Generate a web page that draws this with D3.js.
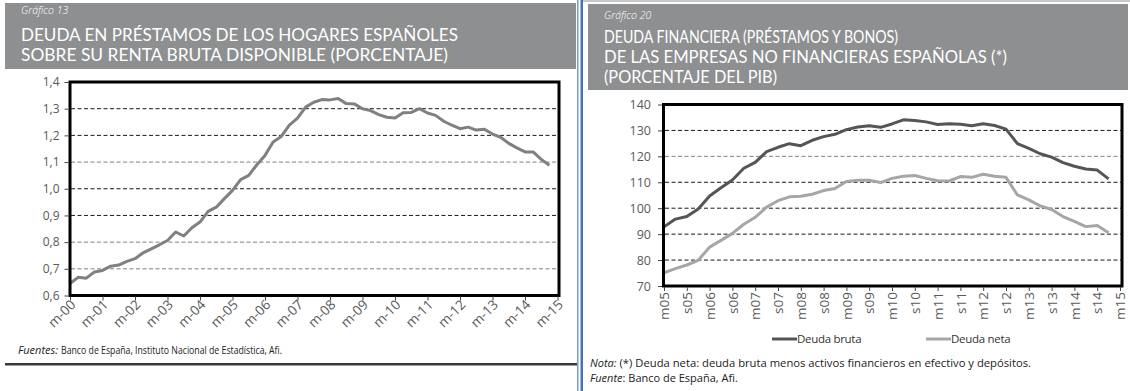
<!DOCTYPE html>
<html><head><meta charset="utf-8">
<script src="https://cdn.jsdelivr.net/npm/d3@7"></script>
<style>
html,body{margin:0;padding:0;background:#fff;}
svg{display:block;}
</style></head>
<body><svg id="c" width="1130" height="391" font-family="Open Sans, DejaVu Sans, sans-serif"></svg>
<script>
// ---------- DATA ----------
// Left chart: quarterly, March 2000 .. late 2014
const leftQuarterIndex = d3.range(60);
const leftValues = [0.645,0.668,0.665,0.688,0.694,0.71,0.714,0.728,0.738,0.76,
  0.775,0.79,0.806,0.838,0.823,0.854,0.875,0.915,0.931,0.963,
  0.994,1.034,1.05,1.09,1.125,1.175,1.196,1.238,1.265,1.306,
  1.324,1.334,1.333,1.338,1.319,1.318,1.30,1.293,1.278,1.268,
  1.265,1.285,1.286,1.30,1.284,1.275,1.253,1.238,1.225,1.231,
  1.22,1.223,1.205,1.193,1.17,1.153,1.138,1.138,1.11,1.088];
const leftXLabels = ["m-00","m-01","m-02","m-03","m-04","m-05","m-06","m-07","m-08","m-09","m-10","m-11","m-12","m-13","m-14","m-15"];
const leftYTicks = [0.6,0.7,0.8,0.9,1.0,1.1,1.2,1.3,1.4];

// Right chart: quarterly, March 2005 .. late 2014
const rightQuarterIndex = d3.range(40);
const deudaBruta = [92.8,95.8,96.8,99.7,104.7,107.9,110.9,115.4,117.7,121.8,
  123.5,124.9,124.1,126.2,127.6,128.5,130.3,131.3,131.8,131.2,
  132.5,134.1,133.8,133.3,132.3,132.6,132.4,131.8,132.6,131.9,
  130.5,124.9,123.1,121.0,119.7,117.6,116.2,115.1,114.7,111.3];
const deudaNeta = [75.1,76.7,78.1,79.9,85.0,87.6,90.3,93.8,96.5,100.4,
  102.9,104.4,104.6,105.4,106.8,107.6,110.3,110.8,110.8,109.9,
  111.5,112.3,112.6,111.5,110.6,110.5,112.2,111.9,113.1,112.3,
  111.9,105.1,103.2,100.9,99.5,96.8,94.9,92.9,93.3,90.5];
const rightXLabels = ["m05","s05","m06","s06","m07","s07","m08","s08","m09","s09","m10","s10","m11","s11","m12","s12","m13","s13","m14","s14","m15"];
const rightYTicks = [70,80,90,100,110,120,130,140];
const seriesNames = ["Deuda bruta","Deuda neta"];

// ---------- STYLE ----------
const headerGrey = "#8e8f91";
const axisText = "#595959";
const leftGreyGrid = [1.1,0.8,0.7];
const rightGreyGrid = [120];

const svg = d3.select("#c");

// panel separators
svg.append("rect").attr("x",577).attr("y",0).attr("width",1.5).attr("height",391).attr("fill","#7d9bc8");
svg.append("rect").attr("x",580.5).attr("y",0).attr("width",2.5).attr("height",391).attr("fill","#4a72b0");
svg.append("rect").attr("x",583).attr("y",0).attr("width",547).attr("height",2).attr("fill","#c8c8c8");

// ---------- HEADERS ----------
function header(x,y,w,h,num,lines,lineY,lineW,numY){
  svg.append("rect").attr("x",x).attr("y",y).attr("width",w).attr("height",h).attr("fill",headerGrey);
  svg.append("text").attr("x",x+16).attr("y",numY).attr("fill","#fff")
    .attr("font-size",10.5).attr("font-style","italic").attr("font-weight",300).text(num);
  lines.forEach((t,i)=>{
    svg.append("text").attr("x",x+16).attr("y",lineY[i]).attr("fill","#fff")
      .attr("font-family","Lato").attr("font-size",16.5)
      .attr("textLength",lineW[i]).attr("lengthAdjust","spacingAndGlyphs").text(t);
  });
}
header(5,3,571,66,"Gráfico 13",
  ["DEUDA EN PRÉSTAMOS DE LOS HOGARES ESPAÑOLES","SOBRE SU RENTA BRUTA DISPONIBLE (PORCENTAJE)"],
  [41,61],[437,427],14);
header(588,4,540,86,"Gráfico 20",
  ["DEUDA FINANCIERA (PRÉSTAMOS Y BONOS)","DE LAS EMPRESAS NO FINANCIERAS ESPAÑOLAS (*)","(PORCENTAJE DEL PIB)"],
  [43,63,83],[294,403,173],19);

// footer helper: italic label + rest as separate texts
function footer(x,y,label,rest,gap,restWidth,size){
  const a = svg.append("text").attr("x",x).attr("y",y).attr("font-size",size).attr("fill","#222")
    .attr("font-style","italic").text(label);
  const w = a.node().getComputedTextLength() + gap;
  const b = svg.append("text").attr("x",x+w).attr("y",y).attr("font-size",size).attr("fill","#222").text(rest);
  if(restWidth) b.attr("textLength",restWidth-w).attr("lengthAdjust","spacingAndGlyphs");
}

// ---------- LEFT CHART ----------
const lx = d3.scaleLinear().domain([0,60]).range([70,557.5]);
const ly = d3.scaleLinear().domain([0.6,1.4]).range([295.5,82]);
const lg = svg.append("g");
lg.selectAll("line.grid").data(leftYTicks.filter(v=>v>0.61&&v<1.39)).join("line")
  .attr("x1",71).attr("x2",558).attr("y1",d=>ly(d)).attr("y2",d=>ly(d))
  .attr("stroke",d=>leftGreyGrid.some(g=>Math.abs(g-d)<1e-6)?"#808080":"#1a1a1a")
  .attr("stroke-width",1).attr("stroke-dasharray","4,2.5");
lg.append("path").datum(leftValues)
  .attr("d",d3.line().x((d,i)=>lx(leftQuarterIndex[i])).y(d=>ly(d)))
  .attr("fill","none").attr("stroke","#808080").attr("stroke-width",3).attr("stroke-linejoin","round");
lg.append("rect").attr("x",70).attr("y",82).attr("width",489).attr("height",213.5)
  .attr("fill","none").attr("stroke","#000").attr("stroke-width",3);
// y axis
const lyAxis = lg.append("g").attr("transform","translate(68.5,0)")
  .call(d3.axisLeft(ly).tickValues(leftYTicks).tickSize(4).tickFormat(d=>d3.format(".1f")(d).replace(".",",")));
lyAxis.attr("font-family",null).attr("font-size",null);
lyAxis.select(".domain").remove();
lyAxis.selectAll("line").attr("stroke","#444");
lyAxis.selectAll("text").attr("fill",axisText).attr("font-size",12).attr("x",-9);
// x axis
const lxAxis = lg.append("g").attr("transform","translate(0,296.5)")
  .call(d3.axisBottom(lx).tickValues(d3.range(0,61,4)).tickSize(4).tickFormat((d,i)=>leftXLabels[i]));
lxAxis.attr("font-family",null).attr("font-size",null);
lxAxis.select(".domain").remove();
lxAxis.selectAll("line").attr("stroke","#444");
lxAxis.selectAll("text").attr("fill",axisText).attr("font-size",13.5)
  .attr("text-anchor","end").attr("dy",0).attr("y",0)
  .attr("transform","translate(6,9) rotate(-45)");
footer(18,354,"Fuentes:","Banco de España, Instituto Nacional de Estadística, Afi.",3,264,11);
svg.append("rect").attr("x",5).attr("y",363).attr("width",572).attr("height",2.5).attr("fill","#3a3a3a");

// ---------- RIGHT CHART ----------
const rx = d3.scaleLinear().domain([0,40]).range([664,1120]);
const ry = d3.scaleLinear().domain([70,140]).range([286,104.5]);
const rg = svg.append("g");
rg.selectAll("line.grid").data(rightYTicks.filter(v=>v>70&&v<140)).join("line")
  .attr("x1",665).attr("x2",1121).attr("y1",d=>ry(d)).attr("y2",d=>ry(d))
  .attr("stroke",d=>rightGreyGrid.includes(d)?"#808080":"#1a1a1a")
  .attr("stroke-width",1).attr("stroke-dasharray","4,2.5");
const rLine = vals => d3.line().x((d,i)=>rx(rightQuarterIndex[i])).y(d=>ry(d))(vals);
const rColors = ["#555555","#a6a6a6"];
[deudaBruta,deudaNeta].forEach((s,k)=>{
  rg.append("path").attr("d",rLine(s)).attr("fill","none").attr("stroke",rColors[k])
    .attr("stroke-width",3).attr("stroke-linejoin","round");
});
rg.append("rect").attr("x",663.5).attr("y",104.5).attr("width",458.5).attr("height",181.5)
  .attr("fill","none").attr("stroke","#000").attr("stroke-width",3);
const ryAxis = rg.append("g").attr("transform","translate(662,0)")
  .call(d3.axisLeft(ry).tickValues(rightYTicks).tickSize(4));
ryAxis.attr("font-family",null).attr("font-size",null);
ryAxis.select(".domain").remove();
ryAxis.selectAll("line").attr("stroke","#444");
ryAxis.selectAll("text").attr("fill",axisText).attr("font-size",12.5).attr("x",-11);
const rxAxis = rg.append("g").attr("transform","translate(0,287)")
  .call(d3.axisBottom(rx).tickValues(d3.range(0,41,2)).tickSize(4).tickFormat((d,i)=>rightXLabels[i]));
rxAxis.attr("font-family",null).attr("font-size",null);
rxAxis.select(".domain").remove();
rxAxis.selectAll("line").attr("stroke","#444");
rxAxis.selectAll("text").attr("fill",axisText).attr("font-size",13.5)
  .attr("text-anchor","end").attr("dy","0.35em").attr("y",0).attr("x",0)
  .attr("transform","translate(0,5) rotate(-90)");
// legend
const legX = [772,926];
seriesNames.forEach((n,k)=>{
  rg.append("line").attr("x1",legX[k]).attr("x2",legX[k]+25).attr("y1",339).attr("y2",339)
    .attr("stroke",rColors[k]).attr("stroke-width",3);
  rg.append("text").attr("x",legX[k]+25).attr("y",343).attr("font-size",11.5).attr("fill","#333")
    .attr("letter-spacing",-0.3).text(n);
});
footer(590,367,"Nota:","(*) Deuda neta: deuda bruta menos activos financieros en efectivo y depósitos.",3,441,11);
footer(590,382,"Fuente",": Banco de España, Afi.",0,null,11);
</script></body></html>
